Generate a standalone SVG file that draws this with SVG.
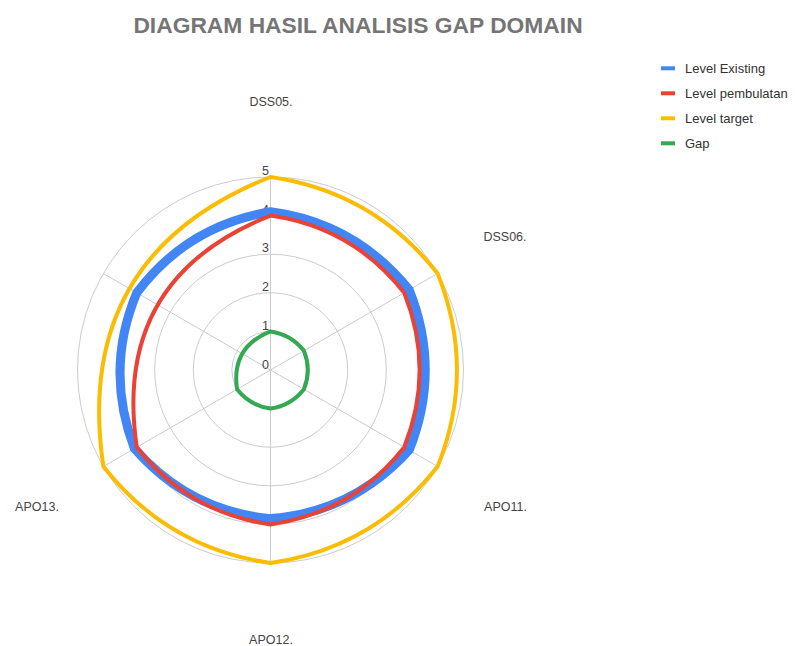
<svg xmlns="http://www.w3.org/2000/svg" width="795" height="646" viewBox="0 0 795 646">
  <style>
    .grid { fill: none; stroke: #cccccc; stroke-width: 1; }
    .tick { font-family: "Liberation Sans", Arial, sans-serif; font-size: 12.5px; fill: #444444; text-anchor: end; }
    .cat { font-family: "Liberation Sans", Arial, sans-serif; font-size: 12.5px; fill: #444444; text-anchor: middle; }
    .title { font-family: "Liberation Sans", Arial, sans-serif; font-size: 22.8px; font-weight: bold; fill: #757575; text-anchor: middle; }
    .leg { font-family: "Liberation Sans", Arial, sans-serif; font-size: 13px; fill: #333333; }
    .series { fill: none; }
    .existing { stroke: #4285F4; stroke-width: 9; }
    .rounded { stroke: #EA4335; stroke-width: 4; }
    .target { stroke: #FBBC04; stroke-width: 4; }
    .gap { stroke: #34A853; stroke-width: 4; }
  </style>

  <rect width="795" height="646" fill="#ffffff"/>

  <text class="title" x="358" y="32.5">DIAGRAM HASIL ANALISIS GAP DOMAIN</text>

  <!-- polar grid: rings 1..5 and six spokes, centre (270.5, 370), 38.6 px per unit -->
  <g id="grid">
    <circle class="grid" cx="270.5" cy="370" r="38.6"/>
    <circle class="grid" cx="270.5" cy="370" r="77.2"/>
    <circle class="grid" cx="270.5" cy="370" r="115.8"/>
    <circle class="grid" cx="270.5" cy="370" r="154.4"/>
    <circle class="grid" cx="270.5" cy="370" r="193"/>
    <path class="grid" d="M270.5,370 L270.5,177 M270.5,370 L437.64,273.5 M270.5,370 L437.64,466.5 M270.5,370 L270.5,563 M270.5,370 L103.36,466.5 M270.5,370 L103.36,273.5"/>
  </g>

  <g id="ticks">
    <text class="tick" x="269" y="175">5</text>
    <text class="tick" x="269" y="213.5">4</text>
    <text class="tick" x="269" y="252">3</text>
    <text class="tick" x="269" y="291">2</text>
    <text class="tick" x="269" y="330">1</text>
    <text class="tick" x="269" y="368.5">0</text>
  </g>

  <g id="categories">
    <text class="cat" x="271" y="106">DSS05.</text>
    <text class="cat" x="505" y="240.5">DSS06.</text>
    <text class="cat" x="505.5" y="511">APO11.</text>
    <text class="cat" x="271" y="644">APO12.</text>
    <text class="cat" x="37" y="511">APO13.</text>
  </g>

  <g id="series">
    <path id="level-existing" class="series existing" d="M270.5,211.74 Q355.37,223.01 409.22,289.9 Q441.26,370 409.22,450.1 Q352.8,512.54 270.5,518.61 Q189.03,511.11 134.45,448.55 Q104.47,370 136.79,292.8 Q187.18,225.68 270.5,211.74 Z"/>
    <path id="level-pembulatan" class="series rounded" d="M270.5,215.6 Q352.8,227.46 404.21,292.8 Q435.09,370 404.21,447.2 Q352.8,512.54 270.5,524.4 Q188.2,512.54 136.79,447.2 Q111.79,278.36 270.5,215.6 Z"/>
    <path id="level-target" class="series target" d="M270.5,177 Q373.37,191.83 437.64,273.5 Q476.24,370 437.64,466.5 Q373.37,548.17 270.5,563 Q167.63,548.17 103.36,466.5 Q72.1,255.45 270.5,177 Z"/>
    <path id="gap" class="series gap" d="M270.5,331.4 Q291.08,334.36 303.93,350.7 Q311.65,370 303.93,389.3 Q291.08,405.64 270.5,408.6 Q249.92,405.64 237.07,389.3 Q230.82,347.09 270.5,331.4 Z"/>
  </g>

  <g id="legend">
    <g id="legend-existing">
      <line x1="661" y1="68.3" x2="675" y2="68.3" stroke="#4285F4" stroke-width="4"/>
      <text class="leg" x="685" y="73">Level Existing</text>
    </g>
    <g id="legend-pembulatan">
      <line x1="661" y1="93.3" x2="675" y2="93.3" stroke="#EA4335" stroke-width="4"/>
      <text class="leg" x="685" y="98">Level pembulatan</text>
    </g>
    <g id="legend-target">
      <line x1="661" y1="118.3" x2="675" y2="118.3" stroke="#FBBC04" stroke-width="4"/>
      <text class="leg" x="685" y="123">Level target</text>
    </g>
    <g id="legend-gap">
      <line x1="661" y1="143.3" x2="675" y2="143.3" stroke="#34A853" stroke-width="4"/>
      <text class="leg" x="685" y="148">Gap</text>
    </g>
  </g>
</svg>
